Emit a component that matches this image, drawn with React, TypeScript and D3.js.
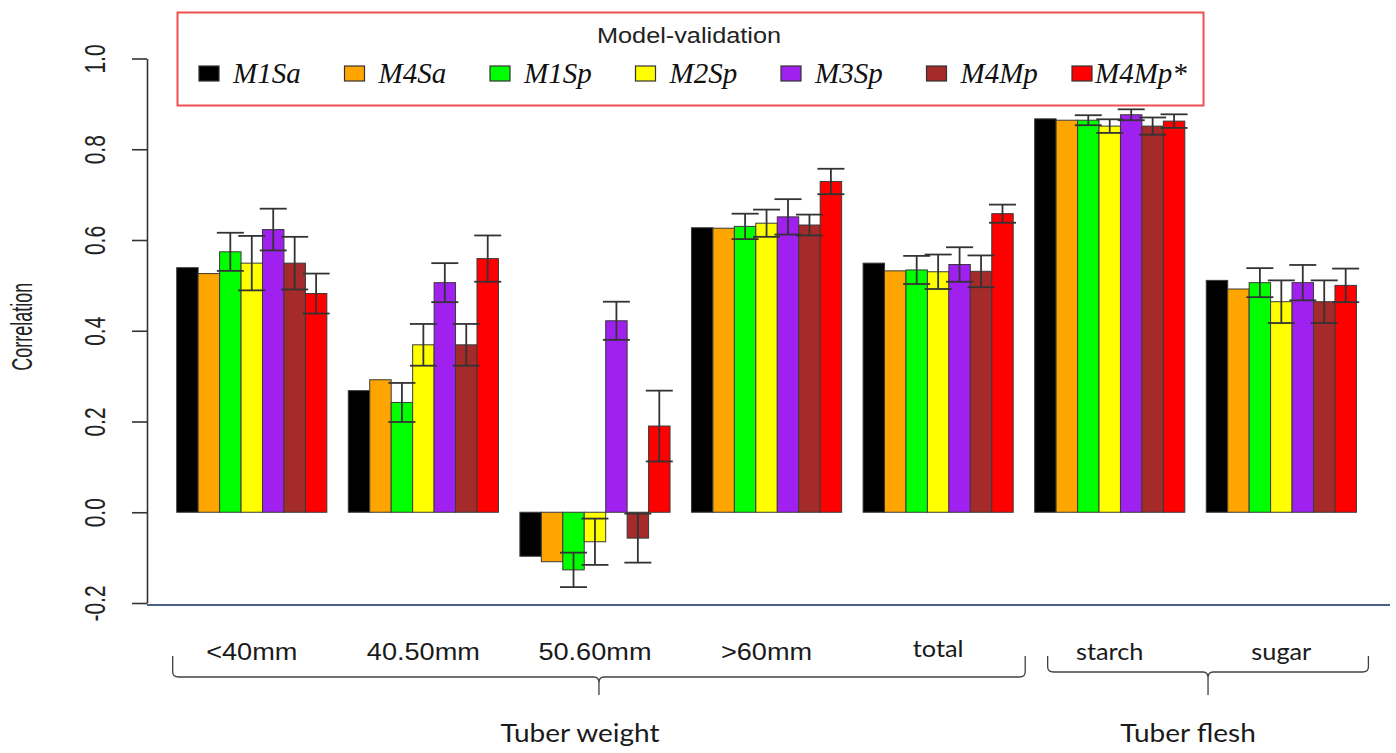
import React, { useEffect, useRef } from 'react';
import * as d3 from 'd3';

// categories on the x axis, grouped under two braces
const categories = ['<40mm', '40.50mm', '50.60mm', '>60mm', 'total', 'starch', 'sugar'];
const braceGroups = [
  { label: 'Tuber weight', first: 0, last: 4 },
  { label: 'Tuber flesh', first: 5, last: 6 },
];

const models = ['M1Sa', 'M4Sa', 'M1Sp', 'M2Sp', 'M3Sp', 'M4Mp', 'M4Mp*'];
const modelColors = ['#000000', '#FFA500', '#00FF00', '#FFFF00', '#A020F0', '#A52A2A', '#FF0000'];

// correlation per model, one value per category
const m1sa = [0.539, 0.268, -0.097, 0.627, 0.549, 0.867, 0.511];
const m4sa = [0.526, 0.292, -0.109, 0.626, 0.532, 0.864, 0.492];
const m1sp = [0.574, 0.242, -0.127, 0.630, 0.534, 0.864, 0.506];
const m2sp = [0.549, 0.369, -0.065, 0.637, 0.530, 0.851, 0.464];
const m3sp = [0.623, 0.506, 0.422, 0.651, 0.546, 0.876, 0.506];
const m4mp = [0.549, 0.369, -0.057, 0.633, 0.531, 0.851, 0.464];
const m4mpStar = [0.482, 0.559, 0.190, 0.729, 0.658, 0.862, 0.500];

// error bar half widths (null = no error bar)
const m1saErr = null;
const m4saErr = null;
const m1spErr = [0.042, 0.043, 0.038, 0.028, 0.031, 0.011, 0.032];
const m2spErr = [0.060, 0.046, 0.051, 0.030, 0.038, 0.015, 0.047];
const m3spErr = [0.046, 0.043, 0.042, 0.039, 0.038, 0.012, 0.039];
const m4mpErr = [0.058, 0.046, 0.054, 0.023, 0.035, 0.019, 0.047];
const m4mpStarErr = [0.044, 0.051, 0.078, 0.028, 0.020, 0.015, 0.037];

const yTicks = [-0.2, 0.0, 0.2, 0.4, 0.6, 0.8, 1.0];

const seriesValues = [m1sa, m4sa, m1sp, m2sp, m3sp, m4mp, m4mpStar];
const seriesErrors = [m1saErr, m4saErr, m1spErr, m2spErr, m3spErr, m4mpErr, m4mpStarErr];

interface BarDatum {
  cat: string;
  model: string;
  color: string;
  value: number;
  err: number | null;
}

const W = 1396;
const H = 753;

const App: React.FC = () => {
  const svgRef = useRef<SVGSVGElement>(null);

  useEffect(() => {
    const svg = d3.select(svgRef.current);
    svg.selectAll('*').remove();

    const bars: BarDatum[] = [];
    categories.forEach((cat, ci) => {
      models.forEach((model, mi) => {
        const errs = seriesErrors[mi];
        bars.push({ cat, model, color: modelColors[mi], value: seriesValues[mi][ci], err: errs ? errs[ci] : null });
      });
    });

    const x = d3.scaleBand<string>()
      .domain(categories)
      .range([176.7, 1356.4])
      .paddingInner(1 / 8)
      .paddingOuter(0);
    const xInner = d3.scaleBand<string>()
      .domain(models)
      .range([0, x.bandwidth()]);
    const y = d3.scaleLinear().domain([-0.2, 1.0]).range([603, 58.5]);

    const axisX = 147;

    // bars
    const g = svg.append('g');
    g.selectAll('rect.bar')
      .data(bars)
      .enter().append('rect')
      .attr('class', 'bar')
      .attr('x', d => (x(d.cat) || 0) + (xInner(d.model) || 0))
      .attr('width', xInner.bandwidth())
      .attr('y', d => y(Math.max(0, d.value)))
      .attr('height', d => Math.abs(y(d.value) - y(0)))
      .attr('fill', d => d.color)
      .attr('stroke', '#3a3a3a')
      .attr('stroke-width', 1);

    // error bars
    const withErr = bars.filter(d => d.err !== null);
    const cap = 13.5;
    const eg = g.selectAll('g.err')
      .data(withErr)
      .enter().append('g')
      .attr('class', 'err')
      .attr('transform', d => `translate(${(x(d.cat) || 0) + (xInner(d.model) || 0) + xInner.bandwidth() / 2},0)`)
      .attr('stroke', '#333')
      .attr('stroke-width', 1.8);
    eg.append('line')
      .attr('x1', 0).attr('x2', 0)
      .attr('y1', d => y(d.value - (d.err as number)))
      .attr('y2', d => y(d.value + (d.err as number)));
    eg.append('line')
      .attr('x1', -cap).attr('x2', cap)
      .attr('y1', d => y(d.value + (d.err as number)))
      .attr('y2', d => y(d.value + (d.err as number)));
    eg.append('line')
      .attr('x1', -cap).attr('x2', cap)
      .attr('y1', d => y(d.value - (d.err as number)))
      .attr('y2', d => y(d.value - (d.err as number)));

    // y axis
    const yAxisG = svg.append('g')
      .attr('transform', `translate(${axisX},0)`)
      .call(d3.axisLeft(y).tickValues(yTicks).tickSize(15).tickSizeOuter(0).tickFormat(d => (+d).toFixed(1)));
    yAxisG.select('.domain').attr('stroke', '#333').attr('stroke-width', 1.6);
    yAxisG.selectAll('.tick line').attr('stroke', '#333').attr('stroke-width', 1.6);
    yAxisG.selectAll('.tick text')
      .attr('x', null)
      .attr('dy', null)
      .attr('fill', '#222')
      .attr('font-family', 'Liberation Sans, Arial, sans-serif')
      .attr('font-size', 21)
      .attr('text-anchor', 'middle')
      .attr('dominant-baseline', 'central')
      .attr('transform', 'translate(-52,0) scale(1.4,1) rotate(-90)');

    svg.append('text')
      .attr('transform', `translate(22,${y(0.4) - 4}) scale(1.6,1) rotate(-90)`)
      .attr('text-anchor', 'middle')
      .attr('dominant-baseline', 'central')
      .attr('font-family', 'Liberation Sans, Arial, sans-serif')
      .attr('font-size', 18)
      .attr('fill', '#222')
      .text('Correlation');

    // bottom rule
    svg.append('line')
      .attr('x1', axisX).attr('x2', 1390)
      .attr('y1', 605).attr('y2', 605)
      .attr('stroke', '#4A6088')
      .attr('stroke-width', 2);

    // category labels
    categories.forEach((cat, i) => {
      const calibri = i >= 4;
      svg.append('text')
        .attr('transform', `translate(${(x(cat) || 0) + x.bandwidth() / 2},${i === 4 ? 657 : 660}) scale(${calibri ? 1.1 : 1.18},1)`)
        .attr('text-anchor', 'middle')
        .attr('font-family', calibri ? 'Lato, Open Sans, sans-serif' : 'Liberation Sans, Arial, sans-serif')
        .attr('font-size', 23)
        .attr('fill', '#1a1a1a')
        .text(cat);
    });

    // braces
    braceGroups.forEach((b, i) => {
      const x0 = (x(categories[b.first]) || 0) + (i === 0 ? -4 : 13);
      const x1 = (x(categories[b.last]) || 0) + x.bandwidth() + 12;
      const mid = (x0 + x1) / 2;
      const hy = i === 0 ? 677 : 672;
      const path = d3.path();
      path.moveTo(x0, 656);
      path.lineTo(x0, hy - 5);
      path.quadraticCurveTo(x0, hy, x0 + 6, hy);
      path.lineTo(mid - 5, hy);
      path.quadraticCurveTo(mid, hy, mid, hy + 6);
      path.lineTo(mid, 695);
      path.moveTo(mid, hy + 6);
      path.quadraticCurveTo(mid, hy, mid + 5, hy);
      path.lineTo(x1 - 6, hy);
      path.quadraticCurveTo(x1, hy, x1, hy - 5);
      path.lineTo(x1, 656);
      svg.append('path')
        .attr('d', path.toString())
        .attr('fill', 'none')
        .attr('stroke', '#404040')
        .attr('stroke-width', 1.3);
      svg.append('text')
        .attr('transform', `translate(${i === 0 ? mid - 19 : mid - 20},742) scale(1.12,1)`)
        .attr('text-anchor', 'middle')
        .attr('font-family', 'Lato, Open Sans, sans-serif')
        .attr('font-size', 25)
        .attr('fill', '#1a1a1a')
        .text(b.label);
    });

    // legend
    const lg = svg.append('g');
    lg.append('rect')
      .attr('x', 177.5).attr('y', 12.5)
      .attr('width', 1026).attr('height', 93)
      .attr('fill', 'white')
      .attr('stroke', '#F05050')
      .attr('stroke-width', 2);
    lg.append('text')
      .attr('transform', 'translate(689,43) scale(1.15,1)')
      .attr('text-anchor', 'middle')
      .attr('font-family', 'Liberation Sans, Arial, sans-serif')
      .attr('font-size', 22)
      .attr('fill', '#222')
      .text('Model-validation');
    const lx = d3.scalePoint<string>().domain(models).range([199, 1072]);
    models.forEach((m, i) => {
      const sx = lx(m) || 0;
      lg.append('rect')
        .attr('x', sx).attr('y', 66)
        .attr('width', 20).attr('height', 15)
        .attr('fill', modelColors[i])
        .attr('stroke', '#333')
        .attr('stroke-width', 1.2);
      lg.append('text')
        .attr('x', sx + (i === models.length - 1 ? 23 : 34))
        .attr('y', 83)
        .attr('font-family', 'Liberation Serif, Times New Roman, serif')
        .attr('font-style', 'italic')
        .attr('font-size', 29)
        .attr('fill', '#111')
        .text(m);
    });
  }, []);

  return (
    <svg ref={svgRef} width={W} height={H} style={{ position: 'absolute', left: 0, top: 0, background: 'white' }} />
  );
};

export default App;
